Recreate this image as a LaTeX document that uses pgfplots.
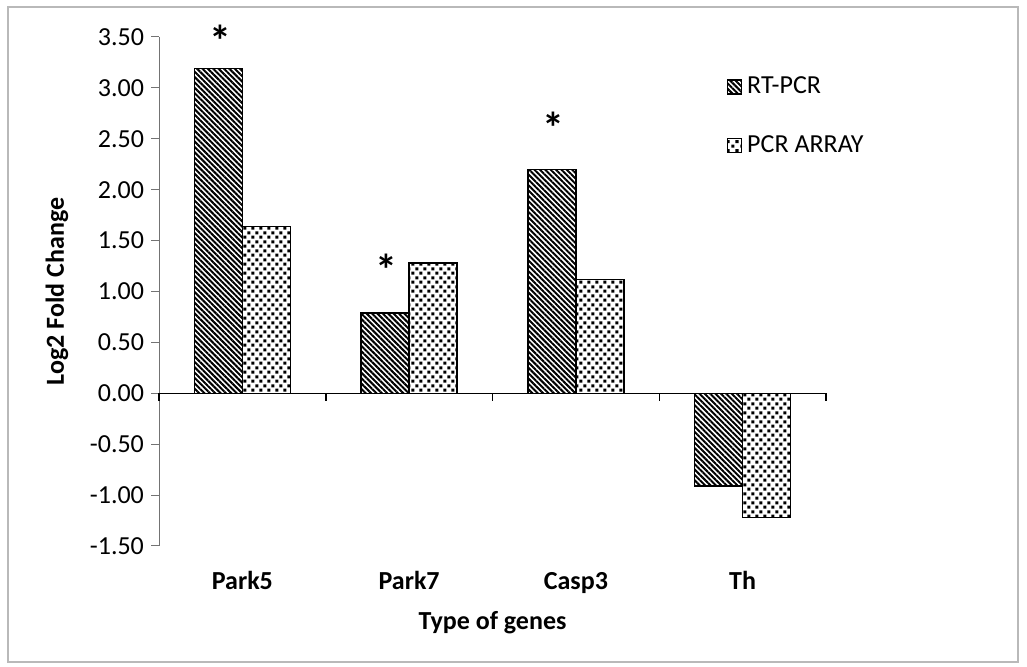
\documentclass[border=0pt]{standalone}
\usepackage{fontspec}
\setmainfont{Carlito}
\usepackage{pgfplots}
\pgfplotsset{compat=1.18}
\usetikzlibrary{patterns.meta}
\newcommand\cf{\fontsize{13}{15}\selectfont}
\tikzdeclarepattern{
  name=sqdots,
  type=uncolored,
  bounding box={(0pt,0pt) and (4.2pt,4.4pt)},
  tile size={(4.2pt,4.4pt)},
  code={
    \pgfpathrectangle{\pgfpoint{0.2pt}{0.2pt}}{\pgfpoint{1.6pt}{1.5pt}}
    \pgfpathrectangle{\pgfpoint{2.3pt}{2.4pt}}{\pgfpoint{1.6pt}{1.5pt}}
    \pgfusepath{fill}
  }
}
\pgfplotsset{sqlegend/.style={legend image code/.code={\draw[##1, line width=0.6pt] (0pt,-3.5pt) rectangle (7pt,3.5pt);}}}
\begin{document}
\begin{tikzpicture}
\useasboundingbox (-79.5pt,-60.5pt) rectangle (434pt,273pt);
\draw[gray!55, line width=0.6pt] (-75.5pt,-58pt) rectangle (429.5pt,269.5pt);
\begin{axis}[
  at={(0pt,0pt)}, anchor=south west,
  width=333.5pt, height=254.5pt, scale only axis,
  ybar=0pt, bar width=0.288,
  xmin=-0.5, xmax=3.5, ymin=-1.5, ymax=3.5,
  clip=false,
  axis x line=bottom, axis y line=left,
  axis line style={-},
  x axis line style={draw=none},
  y axis line style={draw=gray!90!black, line width=0.5pt},
  xtick={0,1,2,3}, xticklabels={Park5,Park7,Casp3,Th},
  xtick style={draw=none},
  ytick={-1.5,-1,-0.5,0,0.5,1,1.5,2,2.5,3,3.5},
  ytick style={draw=gray!90!black, line width=0.5pt},
  tick align=outside, major tick length=4pt,
  yticklabel style={/pgf/number format/.cd, fixed, fixed zerofill, precision=2, assume math mode=true},
  tick label style={font=\cf},
  xticklabel style={font=\cf\bfseries, anchor=base, yshift=-18pt},
  every axis x label/.style={at={(axis description cs:0.5,0)}, anchor=base, yshift=-42pt, font=\cf\bfseries},
  every axis y label/.style={at={(axis description cs:-0.153,0.5)}, rotate=90, anchor=center, font=\cf\bfseries},
  xlabel={Type of genes},
  ylabel={Log2 Fold Change},
  legend style={draw=none, fill=none, at={(axis description cs:0.851,0.926)}, anchor=north west, inner sep=0pt,
    font=\cf, row sep=17.5pt, nodes={inner sep=1pt}, cells={anchor=west},
    /tikz/every odd column/.append style={column sep=1.5pt}},
]
\addplot[sqlegend, draw=black, line width=0.75pt, pattern={Lines[angle=-45,distance=1.9pt,line width=1pt]}]
  coordinates {(0,3.19) (1,0.79) (2,2.20) (3,-0.91)};
\addlegendentry{RT-PCR}
\addplot[sqlegend, draw=black, line width=0.75pt, pattern=sqdots]
  coordinates {(0,1.64) (1,1.28) (2,1.12) (3,-1.22)};
\addlegendentry{PCR ARRAY}
\draw[black, line width=0.75pt] (axis cs:-0.5,0) -- (axis cs:3.5,0);
\pgfplotsinvokeforeach{-0.5,0.5,1.5,2.5,3.5}{\draw[black, line width=0.75pt] (axis cs:#1,0) -- ++(0pt,-4pt);}
\node[font=\fontsize{22}{22}\selectfont\bfseries, yshift=-4pt] at (axis cs:-0.13,3.54) {*};
\node[font=\fontsize{22}{22}\selectfont\bfseries, yshift=-4pt] at (axis cs:0.865,1.29) {*};
\node[font=\fontsize{22}{22}\selectfont\bfseries, yshift=-4pt] at (axis cs:1.865,2.69) {*};
\end{axis}
\end{tikzpicture}
\end{document}
